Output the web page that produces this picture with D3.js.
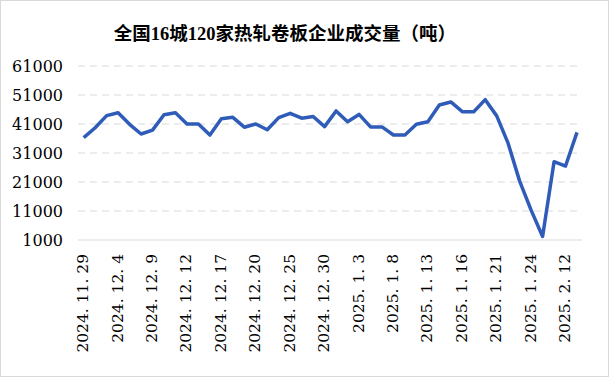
<!DOCTYPE html>
<html><head><meta charset="utf-8">
<script src="https://cdn.jsdelivr.net/npm/d3@7"></script>
<style>html,body{margin:0;padding:0;background:#fff;}</style>
</head><body>
<script>
const title = "全国16城120家热轧卷板企业成交量（吨）";
const dates = ["2024.11.29","2024.12.2","2024.12.3","2024.12.4","2024.12.5","2024.12.6","2024.12.9","2024.12.10","2024.12.11","2024.12.12",
"2024.12.13","2024.12.16","2024.12.17","2024.12.18","2024.12.19","2024.12.20","2024.12.23","2024.12.24","2024.12.25","2024.12.26",
"2024.12.27","2024.12.30","2024.12.31","2025.1.2","2025.1.3","2025.1.6","2025.1.7","2025.1.8","2025.1.9","2025.1.10",
"2025.1.13","2025.1.14","2025.1.15","2025.1.16","2025.1.17","2025.1.20","2025.1.21","2025.1.22","2025.1.23","2025.1.24",
"2025.1.27","2025.2.11","2025.2.12","2025.2.13"];
const volumes = [36300,39700,43900,44900,40900,37550,38900,44200,44900,41000,
41000,37200,42800,43300,39900,41000,39000,43200,44700,43000,
43600,40100,45500,41800,44300,40000,40000,37200,37200,40900,
41800,47550,48600,45250,45250,49400,43800,34300,21300,11300,
2200,28000,26500,38100];
const yTicks = [1000,11000,21000,31000,41000,51000,61000];

const W = 609, H = 379;
const svg = d3.select("body").append("svg").attr("width", W).attr("height", H);
svg.append("rect").attr("x",0.5).attr("y",0.5).attr("width",W-1).attr("height",H-3)
  .attr("fill","#fff").attr("stroke","#d9d9d9");

svg.append("text").attr("x", 285).attr("y", 40).attr("text-anchor","middle")
  .attr("font-family","'Liberation Serif','Noto Sans CJK SC',serif").attr("font-weight","bold")
  .attr("font-size", 18.5).attr("fill","#000").text(title);

const x = d3.scalePoint().domain(dates).range([83.7, 577]);
const y = d3.scaleLinear().domain([1000, 61000]).range([240, 66]);

// gridlines
svg.append("g").selectAll("line").data(yTicks.filter(d => d !== 1000)).join("line")
  .attr("x1", 78).attr("x2", 582).attr("y1", d => y(d)).attr("y2", d => y(d))
  .attr("stroke","#d9d9d9").attr("stroke-width",1).attr("stroke-dasharray","7,5");
svg.append("line").attr("x1",78).attr("x2",582).attr("y1",y(1000)).attr("y2",y(1000))
  .attr("stroke","#d9d9d9").attr("stroke-width",1.2);

// y axis labels
const yAxis = d3.axisLeft(y).tickValues(yTicks).tickSize(0).tickPadding(0).tickFormat(d3.format("d"));
const ya = svg.append("g").attr("transform","translate(63,0)").call(yAxis);
ya.select(".domain").remove();
ya.selectAll("text").attr("font-family","'DejaVu Serif',serif").attr("font-size",16).attr("fill","#000").attr("dy","0.35em");

// x axis labels (every third)
const fmt = d => d.split(".").join(". ");
const xAxis = d3.axisBottom(x).tickSize(0).tickPadding(0)
  .tickValues(dates.filter((d,i) => i % 3 === 0)).tickFormat(fmt);
const xa = svg.append("g").attr("transform","translate(0,250)").call(xAxis);
xa.select(".domain").remove();
xa.selectAll("text").attr("font-family","'DejaVu Serif',serif").attr("font-size",15.5).attr("fill","#000")
  .attr("text-anchor","end").attr("dy",null).attr("y",0).attr("x",-4)
  .attr("transform","rotate(-90)").attr("dominant-baseline","middle");

// line
const line = d3.line().x((d,i) => x(dates[i])).y(d => y(d));
svg.append("path").datum(volumes).attr("d", line).attr("fill","none")
  .attr("stroke","#2f5cb8").attr("stroke-width",3.5).attr("stroke-linejoin","round");
</script>
</body></html>
